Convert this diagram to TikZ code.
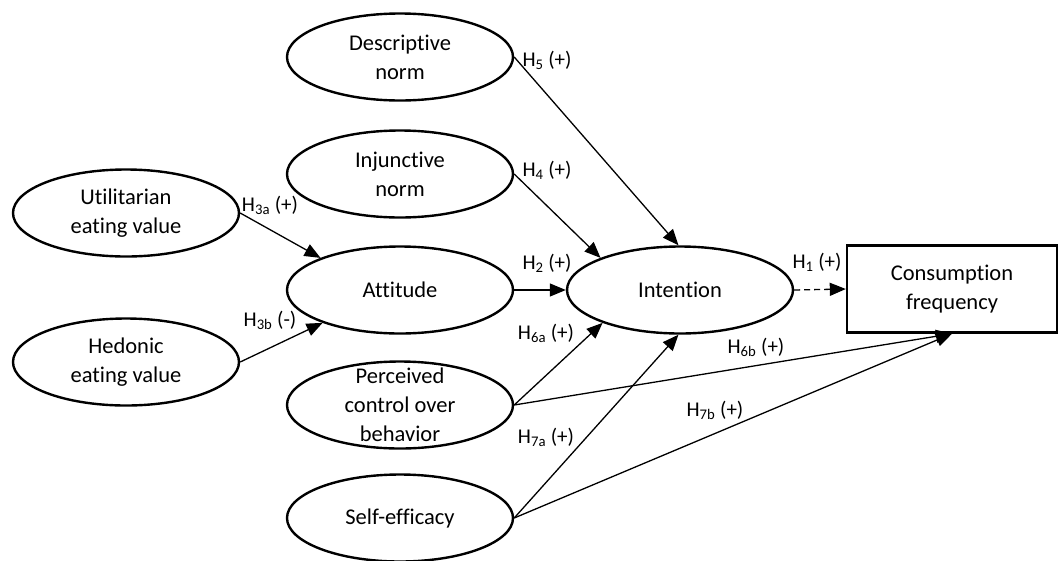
\documentclass[tikz,border=0pt]{standalone}
\usepackage{fontspec}
\setmainfont[Ligatures={NoCommon}]{Carlito}
\usetikzlibrary{shapes.geometric,arrows.meta}
\begin{document}
\begin{tikzpicture}[x=1pt,y=-1pt,
  oval/.style={ellipse,draw,line width=2.4pt,minimum width=226pt,minimum height=87pt,inner sep=0pt},
  ovaltext/.style={align=center,inner sep=0pt,font=\fontsize{22.5}{29}\selectfont},
  outbox/.style={rectangle,draw,line width=2.4pt,minimum width=210pt,minimum height=87pt,inner sep=0pt,align=center,font=\fontsize{22.5}{29}\selectfont},
  hyp/.style={inner sep=0pt,font=\fontsize{21}{24}\selectfont},
  link/.style={line width=1.3pt,-{Triangle[length=16pt,width=13pt]}},
  dlink/.style={link,dash pattern=on 6pt off 4pt}
]
\useasboundingbox (0,0) rectangle (1059,560);

\node[oval,label={[ovaltext]center:Descriptive\\norm}] (desc) at (400,57) {};
\node[oval,label={[ovaltext]center:Injunctive\\norm}] (inj) at (400,174) {};
\node[oval,label={[ovaltext]center:Utilitarian\\eating value}] (util) at (126,213) {};
\node[oval,label={[ovaltext]center:Attitude}] (att) at (400,290) {};
\node[oval,label={[ovaltext]center:Hedonic\\eating value}] (hed) at (126,362) {};
\node[oval,label={[ovaltext]center:Perceived\\control over\\behavior}] (pcb) at (400,405) {};
\node[oval,label={[ovaltext]center:Self-efficacy}] (self) at (400,518) {};
\node[oval,label={[ovaltext]center:Intention}] (int) at (680,290) {};
\node[outbox] (cons) at (952,289) {Consumption\\frequency};

\draw[link] (desc.east) -- (int.92);
\draw[link] (inj.east) -- (int.158);
\draw[link] (util.east) -- (att.158);
\draw[link] (hed.east) -- (att.203);
\draw[link] (att.east) -- (int.west);
\draw[link] (pcb.east) -- (int.203);
\draw[link] (self.east) -- (int.268);
\draw[link] (pcb.east) -- (cons.south);
\draw[link] (self.east) -- (cons.south);
\draw[dlink] (int.east) -- (cons.west);

\node[hyp] (h5) at (547,60) {H\textsubscript{5} (+)};
\node[hyp] (h4) at (547,170) {H\textsubscript{4} (+)};
\node[hyp] (h3a) at (270,205) {H\textsubscript{3a} (+)};
\node[hyp] (h3b) at (270,320) {H\textsubscript{3b} (-)};
\node[hyp] (h2) at (547,263) {H\textsubscript{2} (+)};
\node[hyp] (h6a) at (546,333) {H\textsubscript{6a} (+)};
\node[hyp] (h6b) at (756,347) {H\textsubscript{6b} (+)};
\node[hyp] (h7b) at (715,410) {H\textsubscript{7b} (+)};
\node[hyp] (h7a) at (546,437) {H\textsubscript{7a} (+)};
\node[hyp] (h1) at (817,262) {H\textsubscript{1} (+)};
\end{tikzpicture}
\end{document}
